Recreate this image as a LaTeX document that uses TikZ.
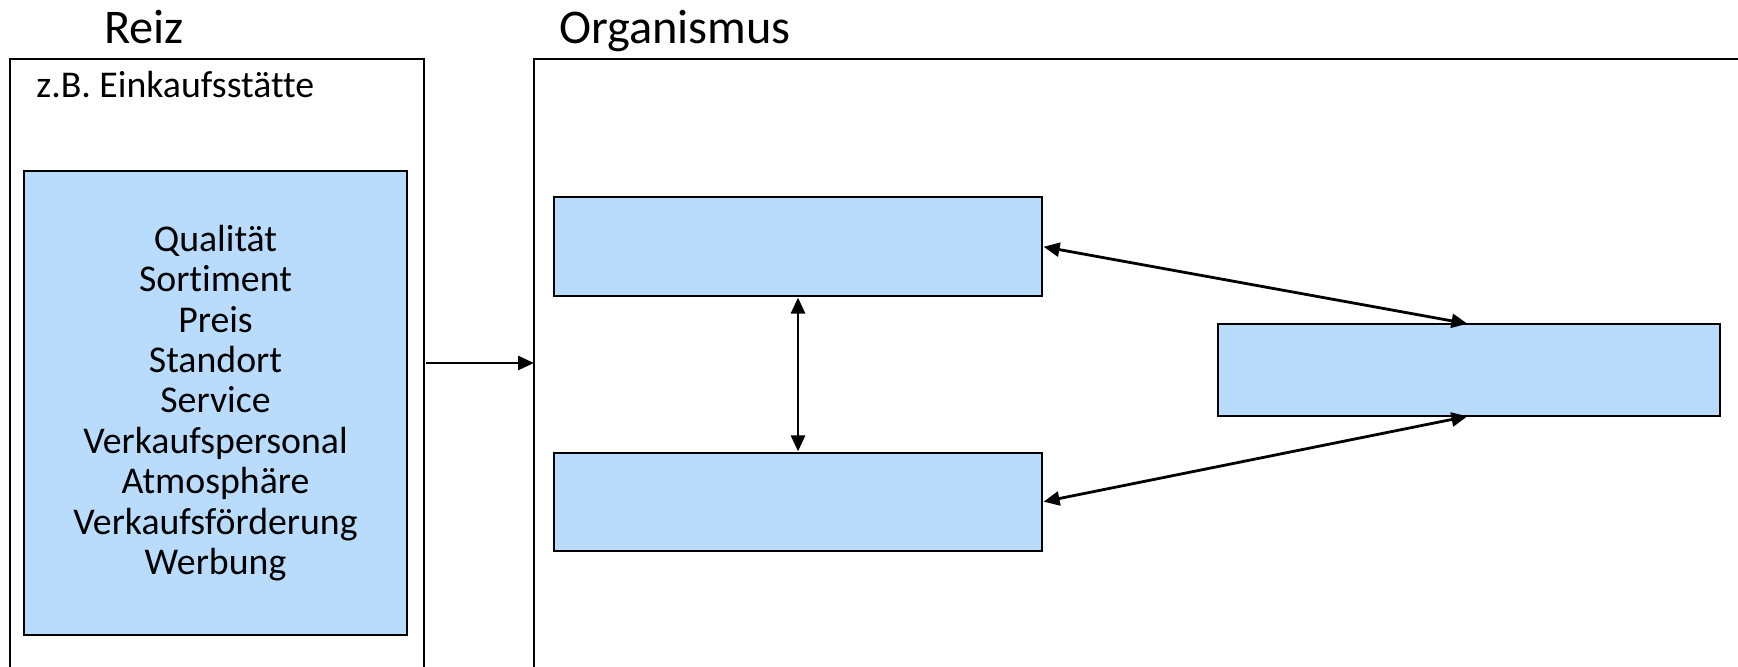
\documentclass[tikz,border=0pt]{standalone}
\usepackage{fontspec}
\setmainfont{Carlito}[Ligatures=NoCommon]
\usetikzlibrary{arrows.meta,calc}
\definecolor{boxblue}{RGB}{185,220,252}
\tikzset{
  x=0.5pt, y=-0.5pt,
  frame/.style={draw=black, line width=0.8pt, fill=white, inner sep=0pt, outer sep=0pt},
  bluebox/.style={draw=black, line width=0.9pt, fill=boxblue, inner sep=0pt, outer sep=0pt},
  title/.style={font=\fontsize{24.2}{28}\selectfont, inner sep=0pt, anchor=base},
  label/.style={font=\fontsize{18.9}{20.2}\selectfont, inner sep=0pt},
  tip/.style={Triangle[length=8pt,width=7pt]},
  link/.style={line width=1.4pt, {Triangle[length=8pt,width=7pt]}-{Triangle[length=8pt,width=7pt]}, shorten <=0.8pt, shorten >=0.8pt},
  feed/.style={line width=1.4pt, -{Triangle[length=8pt,width=7pt]}}
}
\begin{document}
\begin{tikzpicture}
\useasboundingbox (0,0) rectangle (1738,667);
\clip (0,0) rectangle (1738,667);

% headings
\node[title] (treiz) at (144,44) {Reiz};
\node[title] (torg) at (675,44) {Organismus};

% stimulus panel
\node[frame, minimum width=207pt, minimum height=320.5pt] (reiz) at (217,379.5) {};
\node[label, anchor=base west] (zb) at (36,98) {z.B. Einkaufsstätte};
\node[bluebox, minimum width=191.5pt, minimum height=232pt] (inner) at (215.5,403) {};
\node[label, align=center] (items) at (inner.center)
  {Qualität\\Sortiment\\Preis\\Standort\\Service\\Verkaufspersonal\\Atmosphäre\\Verkaufsförderung\\Werbung};

% organism panel
\node[frame, minimum width=613pt, minimum height=320.5pt] (org) at (1147,379.5) {};
\node[bluebox, minimum width=244pt, minimum height=49.5pt] (a) at (798,246.5) {};
\node[bluebox, minimum width=244pt, minimum height=49pt] (b) at (798,502) {};
\node[bluebox, minimum width=251pt, minimum height=46pt] (c) at (1469,370) {};

% connectors
\coordinate (m) at (0,363);
\draw[feed, shorten <=1pt] (reiz.east |- m) -- (org.west |- m);
\draw[link] (a.south) -- (b.north);
\draw[link] (a.east) -- (c.north);
\draw[link] (b.east) -- (c.south);
\end{tikzpicture}
\end{document}
